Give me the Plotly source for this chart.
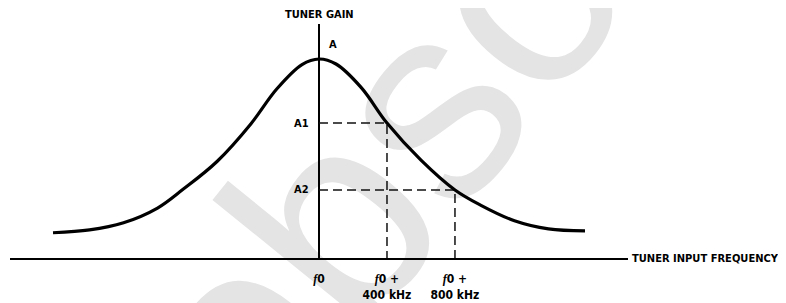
import plotly.graph_objects as go

# Data (frequency offset from f0 in kHz, relative tuner gain)
freq_khz = [-1565, -1350, -1150, -950, -800, -600, -400, -250, -100, 0,
            100, 250, 400, 600, 800, 950, 1150, 1350, 1565]
gain = [0.127, 0.141, 0.177, 0.251, 0.345, 0.485, 0.675, 0.848, 0.972, 1.0,
        0.975, 0.855, 0.678, 0.492, 0.342, 0.266, 0.187, 0.146, 0.136]

tick_vals = [0, 400, 800]
F0 = "<span style='font-family:Liberation Serif'><i>f</i></span>0"
tick_text = ["<b>" + F0 + "</b>", "<b>" + F0 + " +<br>400 kHz</b>", "<b>" + F0 + " +<br>800 kHz</b>"]
level_labels = ["A1", "A2"]
marked_freqs = [400, 800]

FONT = "Liberation Sans Narrow, DejaVu Sans Condensed, Roboto Condensed, Arial Narrow, sans-serif"

fig = go.Figure()

# dashed guide lines
for f in marked_freqs:
    g = gain[freq_khz.index(f)]
    fig.add_trace(go.Scatter(x=[0, f, f], y=[g, g, 0], mode="lines",
                             line=dict(color="#111", width=1.5, dash="9px,5px"),
                             hoverinfo="skip", showlegend=False))

fig.add_trace(go.Scatter(x=freq_khz, y=gain, mode="lines",
                         line=dict(color="black", width=3.2, shape="spline"),
                         showlegend=False))

# watermark, kept below the plot
wm_x, wm_y = 0.788, 1.214
fig.add_shape(type="rect", xref="paper", yref="paper", x0=wm_x, x1=wm_x, y0=wm_y, y1=wm_y,
              line=dict(width=0), fillcolor="rgba(0,0,0,0)", layer="below",
              label=dict(text="obsolete", textangle=-51, textposition="middle center",
                         font=dict(size=280, color="#e4e4e4", family="Liberation Sans")))

annotations = [
    dict(text="<b>TUNER GAIN</b>", x=0, y=1.0, xref="x", yref="paper", yanchor="bottom",
         yshift=1, showarrow=False, font=dict(size=11, color="black", family=FONT)),
    dict(text="<b>TUNER INPUT FREQUENCY</b>", x=1, y=0, xref="paper", yref="y",
         xanchor="left", yanchor="middle", xshift=2, showarrow=False,
         font=dict(size=11.05, color="black", family=FONT)),
    dict(text="<b>A</b>", x=0, y=max(gain), xref="x", yref="y", xanchor="left",
         yanchor="middle", xshift=8, yshift=15, showarrow=False,
         font=dict(size=11, color="black", family=FONT)),
]
for lab, f in zip(level_labels, marked_freqs):
    g = gain[freq_khz.index(f)]
    annotations.append(dict(text="<b>%s</b>" % lab, x=0, y=g, xref="x", yref="y",
                            xanchor="right", yanchor="middle", xshift=-8, showarrow=False,
                            font=dict(size=11, color="black", family=FONT)))

# page body has an 8px margin; figure sized so the plot area lands where the reference has it
fig.update_layout(
    width=778, height=295,
    margin=dict(l=2, r=158, t=16, b=45),
    paper_bgcolor="white", plot_bgcolor="rgba(0,0,0,0)",
    annotations=annotations,
    xaxis=dict(range=[-1818, 1818], showgrid=False, zeroline=True, zerolinecolor="black",
               zerolinewidth=2, showline=True, linecolor="black", linewidth=2,
               tickvals=tick_vals, ticktext=tick_text, ticks="", ticklabelstandoff=9,
               tickfont=dict(size=12, color="black", family=FONT), fixedrange=True),
    yaxis=dict(range=[0, 1.176], showgrid=False, zeroline=False, showline=False,
               showticklabels=False, ticks="", fixedrange=True),
)

fig.write_html("out.html")
